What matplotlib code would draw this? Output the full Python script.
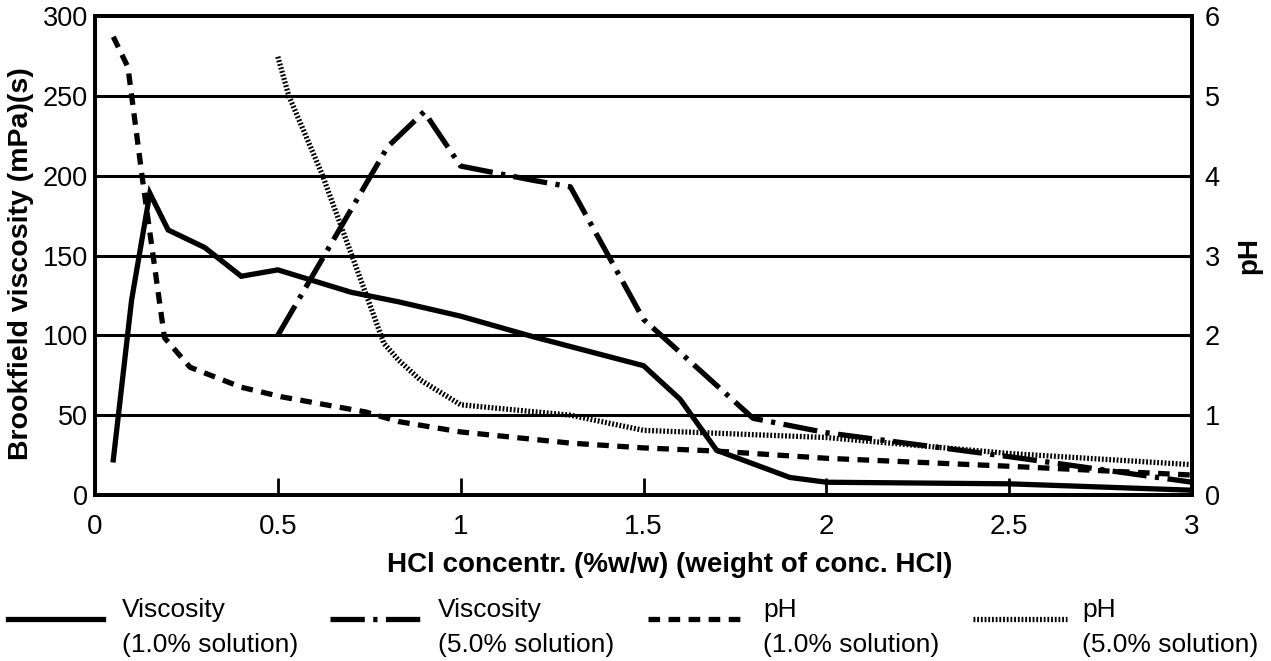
import matplotlib
matplotlib.use("Agg")
import matplotlib.pyplot as plt
from matplotlib.lines import Line2D

plt.rcParams['font.family'] = ['Liberation Sans', 'DejaVu Sans']

# Viscosity, 1.0% solution (left axis, mPa s)
x_visc1 = [0.05, 0.10, 0.15, 0.20, 0.30, 0.40, 0.50, 0.70, 0.83, 1.0, 1.2, 1.5, 1.6, 1.7, 1.9, 2.0, 2.5, 3.0]
y_visc1 = [22, 122, 189, 166, 155, 137, 141, 127, 121, 112, 99, 81, 60, 28, 11, 8, 7, 3]

# Viscosity, 5.0% solution (left axis)
x_visc5 = [0.5, 0.8, 0.9, 1.0, 1.2, 1.3, 1.5, 1.8, 2.0, 2.5, 3.0]
y_visc5 = [100, 218, 240, 206, 197, 193, 110, 48, 39, 24, 8]

# pH, 1.0% solution (right axis)
x_ph1 = [0.05, 0.09, 0.13, 0.19, 0.26, 0.40, 0.51, 0.74, 0.83, 1.0, 1.3, 1.5, 1.7, 2.0, 2.5, 3.0]
y_ph1 = [5.74, 5.36, 3.95, 1.97, 1.6, 1.35, 1.23, 1.04, 0.92, 0.79, 0.65, 0.59, 0.55, 0.46, 0.36, 0.25]

# pH, 5.0% solution (right axis)
x_ph5 = [0.5, 0.53, 0.62, 0.70, 0.74, 0.79, 0.83, 0.89, 1.0, 1.3, 1.5, 2.0, 2.5, 3.0]
y_ph5 = [5.49, 5.0, 4.03, 3.03, 2.53, 1.9, 1.69, 1.44, 1.13, 1.0, 0.81, 0.72, 0.52, 0.38]

x_ticks = [0, 0.5, 1, 1.5, 2, 2.5, 3]
x_tick_labels = ['0', '0.5', '1', '1.5', '2', '2.5', '3']
y_ticks = [0, 50, 100, 150, 200, 250, 300]
ph_ticks = [0, 1, 2, 3, 4, 5, 6]

legend_line1 = ['Viscosity', 'Viscosity', 'pH', 'pH']
legend_line2 = ['(1.0% solution)', '(5.0% solution)', '(1.0% solution)', '(5.0% solution)']

W, H = 1271, 661
fig = plt.figure(figsize=(W / 100, H / 100), dpi=100)
ax = fig.add_axes([95 / W, 1 - 495 / H, (1192 - 95) / W, (495 - 16) / H])
ax2 = ax.twinx()

ax.set_xlim(0, 3)
ax.set_ylim(0, 300)
ax2.set_ylim(0, 6)

for yv in y_ticks[1:-1]:
    ax.axhline(yv, color='black', lw=2.2, zorder=1)

s_visc1 = dict(color='black', lw=3.8, ls='-', solid_joinstyle='miter')
s_visc5 = dict(color='black', lw=3.8, ls=(0, (6.5, 1.6, 0.8, 1.6)), dash_capstyle='butt')
s_ph1 = dict(color='black', lw=3.8, ls=(0, (2.2, 1.6)), dash_capstyle='butt')
s_ph5 = dict(color='black', lw=3.8, ls=(0, (0.35, 0.35)), dash_capstyle='butt')

ax.plot(x_visc1, y_visc1, zorder=3, **s_visc1)
ax.plot(x_visc5, y_visc5, zorder=3, **s_visc5)
ax2.plot(x_ph1, y_ph1, zorder=3, **s_ph1)
ax2.plot(x_ph5, y_ph5, zorder=3, **s_ph5)

for a in (ax, ax2):
    for sp in a.spines.values():
        sp.set_linewidth(2.8)

ax.set_xticks(x_ticks)
ax.set_xticklabels(x_tick_labels)
ax.set_yticks(y_ticks)
ax2.set_yticks(ph_ticks)
ax.tick_params(axis='x', direction='in', length=12, width=2, labelsize=20, pad=14)
ax.tick_params(axis='y', length=0, labelsize=19.5, pad=5)
ax2.tick_params(axis='y', length=0, labelsize=19.5, pad=9)

ax.set_xlabel('HCl concentr. (%w/w) (weight of conc. HCl)', fontsize=20, fontweight='bold')
ax.xaxis.set_label_coords(0.524, -0.118)
ax.set_ylabel('Brookfield viscosity (mPa)(s)', fontsize=20.5, fontweight='bold')
ax.yaxis.set_label_coords(-0.056, 0.482)
ax2.set_ylabel('pH', fontsize=20, fontweight='bold', labelpad=12)

# Legend (manually placed entries below the axes)
styles = [s_visc1, s_visc5, s_ph1, s_ph5]
line_x = [(8, 103), (330, 420), (648, 745), (973, 1067)]
text_x = [122, 438, 763, 1082]
y_line = 619
for st, (x0, x1), tx, l1, l2 in zip(styles, line_x, text_x, legend_line1, legend_line2):
    fig.add_artist(Line2D([x0 / W, x1 / W], [1 - y_line / H, 1 - y_line / H],
                          transform=fig.transFigure, **st))
    fig.text(tx / W, 1 - 617 / H, l1, fontsize=19, va='baseline', ha='left')
    fig.text(tx / W, 1 - 652 / H, l2, fontsize=19, va='baseline', ha='left')

fig.savefig('out.png', dpi=100)
